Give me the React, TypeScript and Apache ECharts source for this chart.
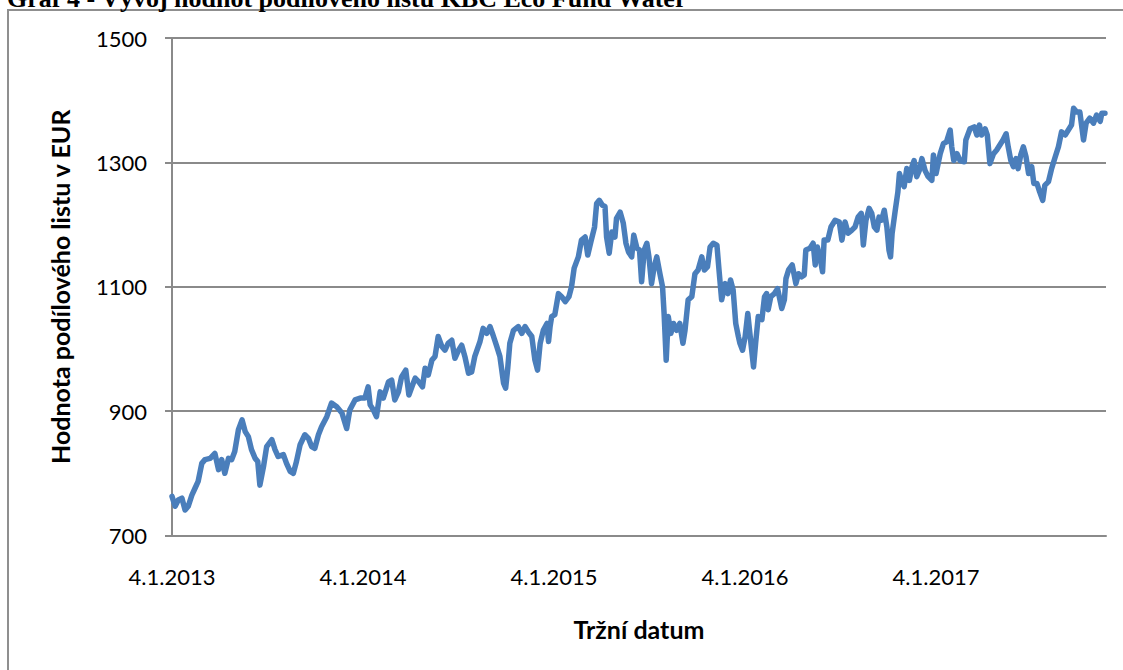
import React, { useEffect, useRef } from "react";
import * as echarts from "echarts";

// Days elapsed since 4.1.2013 (x position of each reading)
const days = [
  0, 6, 12, 19, 25, 31, 38, 44, 50, 57, 63, 73, 82, 89, 95, 101, 108, 114, 120, 127,
  134, 140, 146, 152, 159, 164, 168, 175, 181, 191, 197, 203, 213, 219, 226, 232, 238, 245, 254, 261,
  267, 273, 280, 286, 296, 305, 315, 325, 334, 340, 350, 360, 369, 375, 379, 385, 391, 398, 404, 414,
  420, 426, 433, 439, 447, 453, 460, 465, 472, 479, 484, 490, 497, 503, 509, 516, 522, 528, 535, 541,
  548, 554, 560, 567, 573, 579, 589, 595, 602, 608, 614, 621, 627, 634, 638, 642, 646, 653, 662, 669,
  675, 681, 688, 694, 699, 704, 710, 717, 720, 723, 726, 732, 739, 745, 752, 759, 764, 769, 777, 783,
  790, 795, 801, 808, 812, 817, 823, 828, 831, 836, 841, 847, 850, 857, 863, 868, 873, 879, 883, 889,
  894, 898, 903, 908, 912, 917, 922, 927, 933, 938, 941, 945, 949, 954, 959, 965, 971, 977, 981, 987,
  994, 1000, 1006, 1013, 1018, 1024, 1029, 1035, 1042, 1046, 1051, 1058, 1063, 1068, 1073, 1078, 1083, 1086, 1091, 1096,
  1101, 1105, 1112, 1116, 1121, 1128, 1133, 1137, 1140, 1145, 1152, 1158, 1166, 1171, 1174, 1179, 1186, 1193, 1198, 1204,
  1209, 1212, 1220, 1226, 1230, 1234, 1239, 1244, 1247, 1254, 1260, 1268, 1276, 1281, 1287, 1293, 1300, 1306, 1312, 1318,
  1322, 1327, 1333, 1338, 1343, 1348, 1352, 1357, 1362, 1367, 1371, 1374, 1377, 1383, 1388, 1391, 1395, 1400, 1405, 1410,
  1415, 1419, 1424, 1429, 1434, 1440, 1446, 1453, 1456, 1461, 1469, 1475, 1481, 1488, 1491, 1495, 1501, 1507, 1515, 1518,
  1526, 1534, 1539, 1544, 1548, 1555, 1559, 1564, 1571, 1577, 1583, 1589, 1595, 1599, 1604, 1609, 1614, 1618, 1623, 1628,
  1633, 1638, 1644, 1648, 1654, 1659, 1665, 1669, 1676, 1682, 1689, 1695, 1701, 1708, 1714, 1720, 1724, 1730, 1736, 1743,
  1748, 1755, 1762, 1768, 1775, 1778, 1784,
];

// Unit value in EUR
const nav = [
  763, 747, 757, 760, 741, 747, 765, 776, 787, 816, 822, 824, 832, 806, 822, 800, 824, 822, 835, 870,
  886, 867, 859, 838, 824, 819, 781, 811, 843, 854, 838, 827, 830, 816, 803, 800, 819, 846, 862, 856,
  843, 840, 862, 875, 891, 913, 907, 897, 872, 902, 918, 921, 921, 939, 910, 902, 891, 931, 921, 947,
  950, 918, 931, 955, 966, 926, 942, 953, 947, 939, 969, 958, 982, 988, 1020, 1004, 998, 1009, 1014, 985,
  998, 1006, 988, 961, 963, 988, 1012, 1033, 1025, 1036, 1022, 1004, 988, 945, 937, 969, 1009, 1030, 1036, 1025,
  1036, 1028, 1020, 982, 966, 1009, 1030, 1041, 1012, 1036, 1052, 1055, 1089, 1084, 1076, 1084, 1100, 1130, 1148, 1175,
  1180, 1151, 1172, 1196, 1234, 1239, 1231, 1229, 1180, 1154, 1188, 1180, 1210, 1220, 1202, 1170, 1156, 1148, 1183, 1162,
  1159, 1108, 1159, 1170, 1148, 1105, 1132, 1148, 1121, 1100, 1057, 982, 1052, 1025, 1041, 1030, 1041, 1009, 1030, 1079,
  1084, 1121, 1127, 1148, 1127, 1132, 1164, 1170, 1167, 1127, 1079, 1105, 1089, 1111, 1095, 1041, 1020, 1009, 998, 1020,
  1057, 1025, 971, 1009, 1052, 1047, 1084, 1089, 1063, 1084, 1089, 1097, 1065, 1079, 1113, 1127, 1135, 1105, 1121, 1116,
  1119, 1159, 1162, 1170, 1135, 1164, 1148, 1124, 1175, 1175, 1196, 1207, 1204, 1175, 1204, 1186, 1191, 1196, 1212, 1218,
  1167, 1207, 1226, 1218, 1196, 1191, 1212, 1207, 1223, 1196, 1159, 1148, 1186, 1223, 1252, 1282, 1271, 1261, 1290, 1271,
  1293, 1303, 1277, 1287, 1306, 1287, 1277, 1271, 1312, 1282, 1314, 1330, 1333, 1352, 1325, 1303, 1314, 1303, 1301, 1336,
  1354, 1357, 1344, 1360, 1344, 1354, 1344, 1298, 1314, 1320, 1328, 1336, 1346, 1325, 1303, 1293, 1306, 1290, 1312, 1325,
  1309, 1282, 1293, 1266, 1266, 1253, 1239, 1263, 1269, 1290, 1309, 1325, 1349, 1344, 1352, 1360, 1387, 1381, 1381, 1336,
  1363, 1371, 1363, 1376, 1366, 1379, 1379,
];

const xTickLabels = ["4.1.2013", "4.1.2014", "4.1.2015", "4.1.2016", "4.1.2017"];
const yTicks = [700, 900, 1100, 1300, 1500];

const TITLE = "Graf 4 - Vývoj hodnot podílového listu KBC Eco Fund Water";
const Y_NAME = "Hodnota podílového listu v EUR";
const X_NAME = "Tržní datum";

const YEAR = 365.25;
const LAST_DAY = 1786;

export default function App() {
  const ref = useRef<HTMLDivElement>(null);

  useEffect(() => {
    if (!ref.current) return;
    const chart = echarts.init(ref.current, undefined, { renderer: "svg" });
    const font = "Lato";
    chart.setOption({
      animation: false,
      backgroundColor: "#ffffff",
      graphic: [
        {
          type: "rect",
          shape: { x: 8, y: 10, width: 1300, height: 900 },
          style: { fill: "none", stroke: "#8f8f8f", lineWidth: 2 },
          silent: true,
        },
        {
          type: "text",
          x: 7,
          y: 11,
          style: {
            text: TITLE,
            font: 'bold 26px "Liberation Serif"',
            fill: "#000000",
            verticalAlign: "bottom",
            align: "left",
          },
          silent: true,
        },
      ],
      grid: { left: 172, right: 17, top: 38, bottom: 134.5, containLabel: false },
      xAxis: {
        type: "value",
        min: 0,
        max: LAST_DAY,
        interval: YEAR,
        name: X_NAME,
        nameLocation: "middle",
        nameGap: 81,
        nameTextStyle: { fontFamily: font, fontWeight: "bold", fontSize: 25, color: "#000" },
        axisLine: { show: true, lineStyle: { color: "#8a8a8a", width: 2 } },
        axisTick: { show: false },
        splitLine: { show: false },
        axisLabel: {
          showMaxLabel: false,
          margin: 30,
          fontFamily: font,
          fontSize: 22,
          color: "#000",
          formatter: (v: number) => {
            const k = v / YEAR;
            const r = Math.round(k);
            return Math.abs(k - r) < 1e-6 ? xTickLabels[r] ?? "" : "";
          },
        },
      },
      yAxis: {
        type: "value",
        min: yTicks[0],
        max: yTicks[yTicks.length - 1],
        interval: 200,
        name: Y_NAME,
        nameLocation: "middle",
        nameGap: 100,
        nameTextStyle: { fontFamily: font, fontWeight: "bold", fontSize: 25, color: "#000" },
        axisLine: { show: true, lineStyle: { color: "#8a8a8a", width: 2 } },
        axisTick: { show: true, length: 7, lineStyle: { color: "#8a8a8a", width: 2 } },
        splitLine: { show: true, lineStyle: { color: "#8a8a8a", width: 2 } },
        axisLabel: {
          margin: 25,
          fontFamily: font,
          fontSize: 22,
          color: "#000",
          formatter: (v: number) => String(v),
        },
      },
      series: [
        {
          type: "line",
          data: days.map((d, i) => [d, nav[i]]),
          showSymbol: false,
          symbol: "none",
          lineStyle: { color: "#4a7ebb", width: 5.5, cap: "round", join: "round" },
          itemStyle: { color: "#4a7ebb" },
          z: 3,
        },
      ],
    });
    return () => chart.dispose();
  }, []);

  return (
    <div style={{ position: "absolute", left: 0, top: 0, width: 1123, height: 670, overflow: "hidden", background: "#fff" }}>
      <div ref={ref} style={{ width: 1123, height: 670 }} />
    </div>
  );
}
